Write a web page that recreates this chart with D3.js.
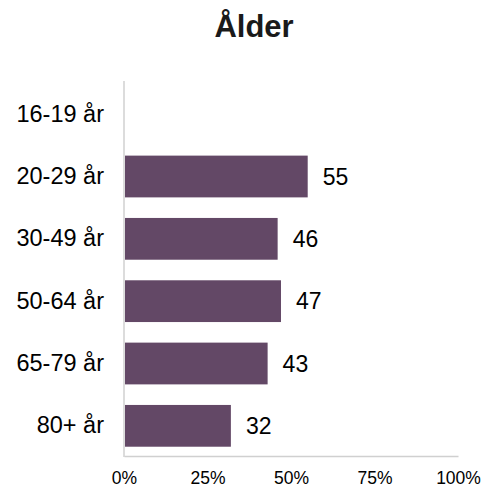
<!DOCTYPE html>
<html>
<head>
<meta charset="utf-8">
<script src="https://cdn.jsdelivr.net/npm/d3@7"></script>
<style>
  body { margin: 0; background: #fff; }
  text { font-family: "Liberation Sans", Arial, sans-serif; }
</style>
</head>
<body>
<div id="chart"></div>
<script>
const categories = ["16-19 år", "20-29 år", "30-49 år", "50-64 år", "65-79 år", "80+ år"];
const values = [null, 55, 46, 47, 43, 32];
const xTicks = [0, 25, 50, 75, 100];
const title = "Ålder";

const width = 485, height = 488;

const svg = d3.select("#chart")
  .append("svg")
  .attr("width", width)
  .attr("height", height);

// scales
const x = d3.scaleLinear()
  .domain([0, 100])
  .range([124, 458]);

const y = d3.scaleBand()
  .domain(categories)
  .range([83, 457])
  .paddingInner(0.33)
  .paddingOuter(0.165);

// title
svg.append("text")
  .attr("x", 254)
  .attr("y", 37)
  .attr("text-anchor", "middle")
  .style("font-size", "31px")
  .style("font-weight", "bold")
  .style("fill", "#1a1a1a")
  .text(title);

// bars
const data = categories.map((c, i) => ({ cat: c, val: values[i] }));

svg.append("g")
  .selectAll("rect")
  .data(data.filter(d => d.val != null))
  .enter()
  .append("rect")
    .attr("x", x(0) + 1)
    .attr("y", d => y(d.cat))
    .attr("width", d => x(d.val) - x(0) - 1)
    .attr("height", y.bandwidth())
    .style("fill", "#634866");

// value labels
svg.append("g")
  .selectAll("text")
  .data(data.filter(d => d.val != null))
  .enter()
  .append("text")
    .attr("x", d => x(d.val) + 15)
    .attr("y", d => y(d.cat) + y.bandwidth() / 2)
    .attr("dy", "0.36em")
    .style("font-size", "23px")
    .style("fill", "#000")
    .text(d => d.val);

// y axis
const yAxis = svg.append("g")
  .attr("transform", `translate(${x(0)},0)`)
  .call(d3.axisLeft(y).tickSize(0).tickPadding(20));
yAxis.select(".domain").attr("stroke", "#d0d0d0").attr("stroke-width", 1.5)
  .attr("d", "M0,81V457");
yAxis.selectAll("text")
  .style("font-size", "23.5px")
  .style("fill", "#000")
  .attr("font-family", null);

// x axis
const xAxis = svg.append("g")
  .attr("transform", "translate(0,456)")
  .call(d3.axisBottom(x).tickValues(xTicks).tickSize(0).tickPadding(16).tickFormat(d => d + "%"));
xAxis.select(".domain").attr("stroke", "#d0d0d0").attr("stroke-width", 1.5);
xAxis.selectAll("text")
  .style("font-size", "17.5px")
  .style("fill", "#000")
  .attr("font-family", null);
</script>
</body>
</html>
